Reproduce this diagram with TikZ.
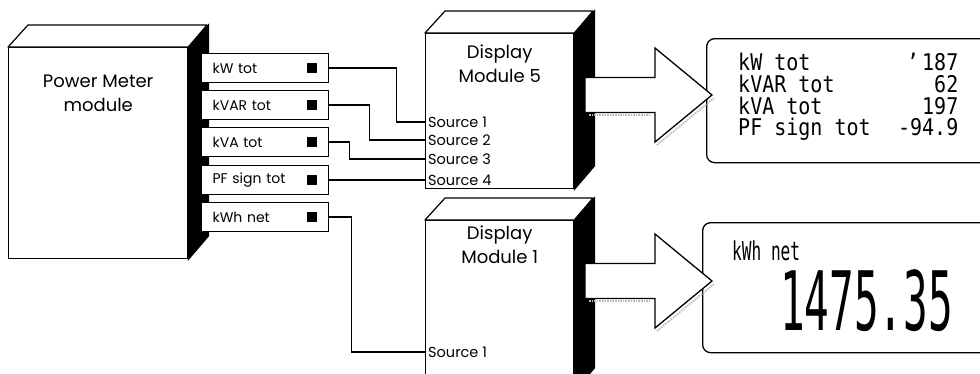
\documentclass[tikz,border=0pt]{standalone}
\usepackage{fontspec}
\usepackage{graphicx}
\setmainfont{Poppins}
\newfontfamily\lcd{DejaVu Sans Mono}
\usetikzlibrary{positioning}
\tikzstyle{Front}=[rectangle, draw=black, fill=white, line width=1.4, anchor=north west, inner sep=0]
\tikzstyle{Top}=[draw=black, fill=white, line width=1.2, line join=round]
\tikzstyle{Side}=[draw=black, fill=black, line width=1.2]
\tikzstyle{Label}=[align=center, inner sep=0, font=\fontsize{18}{24}\selectfont]
\tikzstyle{Tab}=[rectangle, draw=black, fill=white, line width=1.2, minimum width=127, minimum height=29, inner xsep=11, inner ysep=0, text width=105, align=left, anchor=west, font=\fontsize{14}{15}\selectfont]
\tikzstyle{Led}=[rectangle, fill=black, minimum size=10, inner sep=0]
\tikzstyle{Src}=[anchor=west, inner xsep=3, inner ysep=0, font=\fontsize{14.5}{15}\selectfont]
\tikzstyle{Wire}=[draw=black, line width=1.1]
\tikzstyle{Block}=[draw=black, fill=white, line width=1.3, line join=miter]
\tikzstyle{Shade}=[draw=gray!55, line width=1.6, densely dotted]
\tikzstyle{Panel}=[rectangle, draw=black, line width=1.3, rounded corners=8, anchor=north west]
\tikzstyle{Lcd}=[inner sep=0, align=left, anchor=north west, font=\lcd\fontsize{23}{21.7}\selectfont]
\newcommand{\lcdrow}[2]{\scalebox{0.87}[1]{\makebox[253pt][l]{#1\hfill #2}}}

\begin{document}
\begin{tikzpicture}[x=1pt, y=-1pt]
    \clip (0,0) rectangle (980,373);
    \path
    (8,47) node[Front, minimum width=179, minimum height=211] (pm) {}
    (425,33) node[Front, minimum width=148, minimum height=155] (dm5) {}
    (425,220) node[Front, minimum width=148, minimum height=170] (dm1) {};

    \foreach \m/\w/\h in {pm/179/211, dm5/148/155, dm1/148/170} {
        \draw[Top] (\m.north west) -- ++(20,-22) -- ++(\w,0) -- (\m.north east) -- cycle;
        \draw[Side] (\m.north east) -- ++(20,-22) -- ++(0,\h) -- (\m.south east) -- cycle;
    }

    \node[Label, below=28pt of pm.north] (pmtext) {Power Meter\\module};
    \node[Label, below=12pt of dm5.north] (dm5text) {Display\\Module 5};
    \node[Label, below=6pt of dm1.north] (dm1text) {Display\\Module 1};

    \path
    (201,68) node[Tab] (kw) {kW tot}
    (201,105) node[Tab] (kvar) {kVAR tot}
    (201,142) node[Tab] (kva) {kVA tot}
    (201,180) node[Tab] (pf) {PF sign tot}
    (201,217) node[Tab] (kwh) {kWh net};
    \foreach \t in {kw,kvar,kva,pf,kwh}
        \node[Led, left=12pt of \t.east] (\t led) {};

    \path
    (425,122) node[Src] (s1) {Source 1}
    (425,140) node[Src] (s2) {Source 2}
    (425,159) node[Src] (s3) {Source 3}
    (425,180) node[Src] (s4) {Source 4}
    (425,352) node[Src] (t1) {Source 1};

    \draw[Wire] (kw.east) -- ++(67,0) |- (s1.west);
    \draw[Wire] (kvar.east) -- ++(40,0) |- (s2.west);
    \draw[Wire] (kva.east) -- ++(20,0) |- (s3.west);
    \draw[Wire] (pf.east) -- (s4.west);
    \draw[Wire] (kwh.east) -- ++(22,0) |- (t1.west);

    \path
    (706,38) node[Panel, minimum width=300, minimum height=124] (p5) {}
    (702,222) node[Panel, minimum width=300, minimum height=130] (p1) {};

    \coordinate (a5) at (585,95);
    \coordinate (a1) at (585,281);
    \foreach \a in {a5,a1} {
        \draw[Shade] (\a) ++(4,20) -- ++(60,0);
        \draw[Shade] (\a) ++(72,50) -- ++(57,-47);
        \draw[Block] (\a) ++(0,-17.5) -- ++(70,0) -- ++(0,-29.5) -- ++(57,47)
            -- ++(-57,47) -- ++(0,-29.5) -- ++(-70,0) -- cycle;
    }

    \node[Lcd] (rd5) at (738,53) {\lcdrow{kW tot}{\textquoteright\,187}\\
        \lcdrow{kVAR tot}{62}\\
        \lcdrow{kVA tot}{197}\\
        \lcdrow{PF sign tot}{-94.9}};
    \node[Lcd] (rd1) at (732,241) {\scalebox{0.62}[1]{\fontsize{26}{26}\selectfont kWh net}};
    \node[anchor=base east, inner sep=0] (rd1val) at (953,330)
        {\scalebox{0.5}[1]{\lcd\fontsize{82}{82}\selectfont 1475.35}};
\end{tikzpicture}
\end{document}
